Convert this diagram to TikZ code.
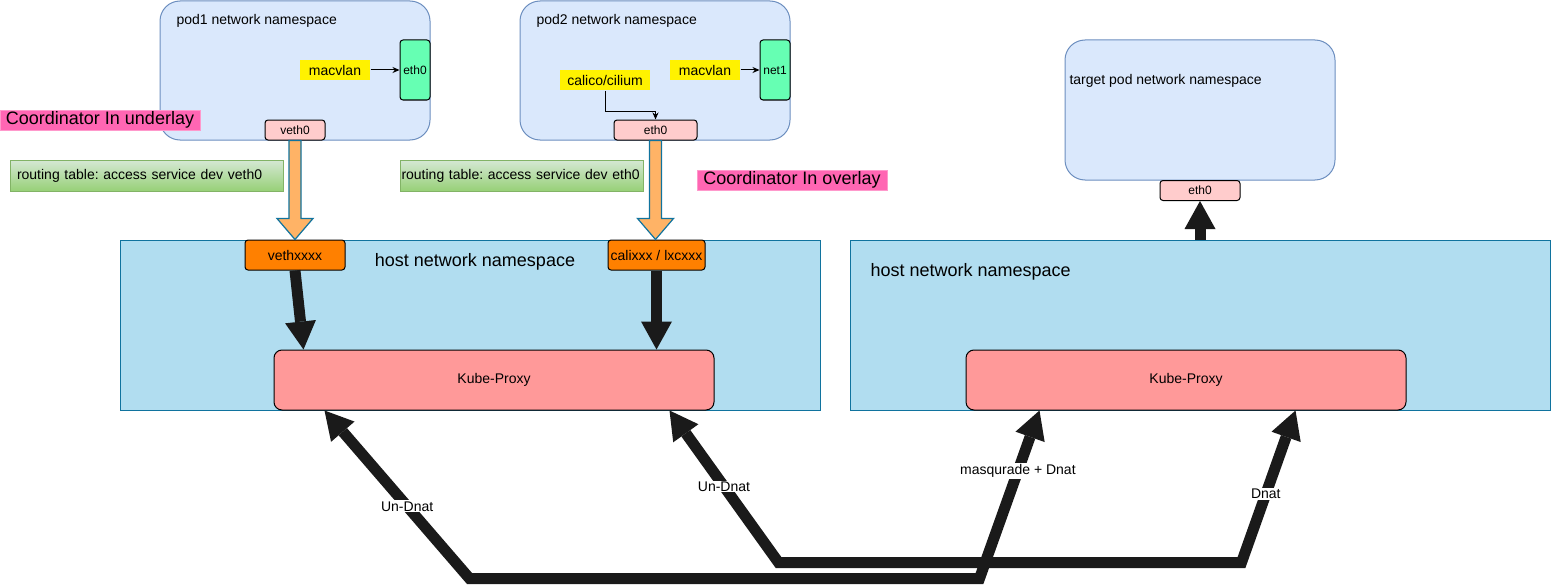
\documentclass[tikz,border=0pt]{standalone}
\usepackage{fontspec}
\setmainfont{Liberation Sans}
\usepackage{xcolor}
\usepackage{tikz}
\usetikzlibrary{arrows.meta,positioning,calc}

\definecolor{podfill}{HTML}{DAE8FC}
\definecolor{podline}{HTML}{6C8EBF}
\definecolor{nicgreen}{HTML}{66FFB3}
\definecolor{nicpink}{HTML}{FFCCCC}
\definecolor{hostfill}{HTML}{B1DDF0}
\definecolor{hostline}{HTML}{10739E}
\definecolor{vethorange}{HTML}{FF8000}
\definecolor{kpfill}{HTML}{FF9999}
\definecolor{coordfill}{HTML}{FF66B3}
\definecolor{coordline}{HTML}{FF99CC}
\definecolor{rttop}{HTML}{D5E8D4}
\definecolor{rtbot}{HTML}{97D077}
\definecolor{rtline}{HTML}{82B366}
\definecolor{flexfill}{HTML}{FFB366}
\definecolor{arrblack}{HTML}{1A1A1A}

% hollow arrow straight down from #1 to #2
\newcommand{\flexarrow}[2]{%
  \filldraw[flexarr] let \p1=(#1), \p2=(#2) in
    (\x1-6pt,\y1) -- (\x1+6pt,\y1) -- (\x1+6pt,\y2+21pt) -- (\x1+18pt,\y2+21pt)
    -- (\x1,\y2) -- (\x1-18pt,\y2+21pt) -- (\x1-6pt,\y2+21pt) -- cycle;}

\begin{document}
\frenchspacing
\begin{tikzpicture}[x=1pt, y=-1pt, line width=1pt,
    ns/.style={rectangle, draw=podline, fill=podfill, rounded corners=20pt, inner sep=0pt},
    host/.style={rectangle, draw=hostline, fill=hostfill, inner sep=0pt,
                 minimum width=700pt, minimum height=170pt},
    nic/.style={rectangle, draw, rounded corners=3pt, inner sep=0pt,
                font=\fontsize{12}{14}\selectfont},
    plug/.style={rectangle, fill=yellow, inner sep=0pt, minimum height=20pt,
                 font=\fontsize{14}{16}\selectfont},
    hostnic/.style={rectangle, draw, fill=vethorange, rounded corners=3pt, inner sep=0pt,
                    minimum height=30pt, font=\fontsize{14}{16}\selectfont},
    kp/.style={rectangle, draw, fill=kpfill, rounded corners=8pt, inner sep=0pt,
               minimum width=440pt, minimum height=60pt, font=\fontsize{14}{16}\selectfont},
    coord/.style={rectangle, draw=coordline, fill=coordfill, inner sep=0pt,
                  minimum height=20pt, font=\fontsize{18}{20}\selectfont},
    route/.style={rectangle, draw=rtline, top color=rttop, bottom color=rtbot,
                  inner ysep=7pt, minimum height=31pt, align=left,
                  font=\fontsize{14}{16}\selectfont},
    title/.style={font=\fontsize{14}{16}\selectfont, inner sep=0pt},
    bigtitle/.style={font=\fontsize{18}{20}\selectfont, inner sep=0pt},
    lbl/.style={fill=white, inner sep=1pt, font=\fontsize{14}{16}\selectfont},
    arr/.style={-{Stealth[length=7pt,width=6pt]}, line width=1pt},
    flexarr/.style={draw=hostline, fill=flexfill, line width=1.2pt, line join=miter},
    fat/.style={draw=arrblack, line width=11pt, line join=miter,
                >={Triangle[width=31pt,length=28pt,line width=0pt]}}
  ]
  \useasboundingbox (0,0) rectangle (1551,586);

  % host namespaces
  \node[host] (host1) at (470,325) {};
  \node[bigtitle] (host1t) at (475,262) {host network namespace};
  \node[host] (host2) at (1200,325) {};
  \node[bigtitle, anchor=west] (host2t) at (870,272) {host network namespace};

  % pod1
  \node[ns, minimum width=270pt, minimum height=139pt] (pod1) at (295,70.5) {};
  \node[title, anchor=west] (pod1t) at (176,21) {pod1 network namespace};
  \node[nic, fill=nicgreen, minimum width=30pt, minimum height=60pt] (p1eth) at (415,70) {eth0};
  \node[plug, minimum width=70pt] (p1mac) at (335,70) {macvlan};
  \node[nic, fill=nicpink, minimum width=60pt, minimum height=20pt] (p1veth) at (295,130) {veth0};
  \draw[arr] (p1mac) -- (p1eth);

  % pod2
  \node[ns, minimum width=270pt, minimum height=139pt] (pod2) at (655,70.5) {};
  \node[title, anchor=west] (pod2t) at (536,21) {pod2 network namespace};
  \node[nic, fill=nicgreen, minimum width=30pt, minimum height=60pt] (p2net) at (775,70) {net1};
  \node[plug, minimum width=70pt] (p2mac) at (705,70) {macvlan};
  \node[plug, minimum width=90pt] (p2cal) at (605,80.5) {calico/cilium};
  \node[nic, fill=nicpink, minimum width=83pt, minimum height=20pt] (p2eth) at (655.5,130) {eth0};
  \draw[arr] (p2mac) -- (p2net);
  \draw[arr] (p2cal.south) -- ++(0,20) -| (p2eth.north);

  % target pod
  \node[ns, minimum width=270pt, minimum height=140pt] (tgt) at (1200,110) {};
  \node[title, anchor=west] (tgtt) at (1069,81) {target pod network namespace};
  \node[nic, fill=nicpink, minimum width=80pt, minimum height=20pt] (tgteth) at (1200,190.5) {eth0};

  % notes
  \node[coord, minimum width=200pt] (coordu) at (100,120) {Coordinator In underlay};
  \node[coord, minimum width=190pt] (coordo) at (792,180) {Coordinator In overlay};
  \node[route, text width=259pt, inner xsep=7pt] (rt1) at (146.5,175.5) {routing table: access service dev veth0};
  \node[route, text width=240pt, inner xsep=1.5pt] (rt2) at (521.5,175.5) {routing table: access service dev eth0};

  % host side
  \node[hostnic, minimum width=100pt] (vethx) at (295,255) {vethxxxx};
  \node[hostnic, minimum width=97pt] (calix) at (656.5,255) {calixxx / lxcxxx};
  \node[kp] (kp1) at (494,380) {Kube-Proxy};
  \node[kp] (kp2) at (1186,380) {Kube-Proxy};

  % pod to host
  \flexarrow{p1veth.south}{vethx.north}
  \flexarrow{p2eth.south}{p2eth.south |- calix.north}
  \draw[fat, ->] (vethx.south) -- ([xshift=30pt]kp1.north west);
  \draw[fat, ->] (calix.south) -- (calix.south |- kp1.north);
  \draw[fat, ->] (tgteth.south |- host2.north) -- (tgteth.south);

  % service traffic between the nodes
  \draw[fat, <->] ([xshift=51pt]kp1.south west)
    -- node[lbl, pos=0.57] {Un-Dnat} ++(145,168) -- ++(510,0)
    -- node[lbl, pos=0.64] {masqurade + Dnat} ([xshift=74pt]kp2.south west);
  \draw[fat, <->] ([xshift=-45pt]kp1.south east)
    -- node[lbl, pos=0.5] {Un-Dnat} ++(109,152) -- ++(463,0)
    -- node[lbl, pos=0.45] {Dnat} ([xshift=-111pt]kp2.south east);

\end{tikzpicture}
\end{document}
